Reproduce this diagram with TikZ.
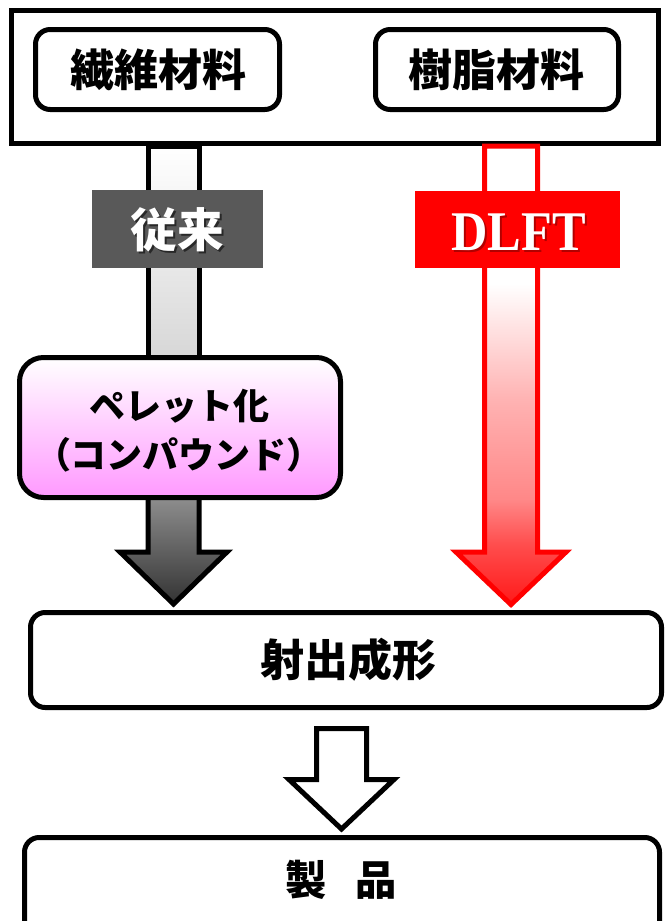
\documentclass[tikz,border=0pt]{standalone}
\usepackage{fontspec}
\newfontfamily\jp{Noto Sans CJK JP}
\newfontfamily\serifb{Liberation Serif}
\definecolor{lblgray}{HTML}{595959}
\definecolor{pelbot}{HTML}{FF99FF}
\pgfdeclareverticalshading{redarr}{100bp}{color(0bp)=(red!90); color(25bp)=(red!90); color(31.5bp)=(red!70); color(36.4bp)=(red!47); color(47.3bp)=(red!30); color(60bp)=(white); color(100bp)=(white)}
\begin{document}
\begin{tikzpicture}[x=0.75pt,y=-0.75pt,line join=miter,
  thickbox/.style={draw=black,line width=3.75pt,inner sep=0pt,outer sep=0pt},
  rbox/.style={thickbox,rounded corners=11pt},
  ttl/.style={font=\jp\bfseries\fontsize{33}{40}\selectfont},
  lbl/.style={inner sep=0pt,outer sep=0pt},
  arrowline/.style={line width=3.75pt},
]
\useasboundingbox (0,0) rectangle (665,921);
\clip (0,0) rectangle (665,921);
\fill[white] (0,0) rectangle (665,921);

% top frame with the two materials
\node[thickbox,minimum width=484.875pt,minimum height=100.125pt] (frame) at (334.75,76.75) {};
\node[rbox,minimum width=183pt,minimum height=60pt] (fiber) at (157.5,69.5) {};
\node[ttl] (fibert) at (158,70) {繊維材料};
\node[rbox,minimum width=182.25pt,minimum height=60pt] (resin) at (497,69.5) {};
\node[ttl] (resint) at (496,70) {樹脂材料};

% left path: shaft above pellet box
\draw[arrowline,draw=black,top color=white,middle color=white,bottom color=black!16] (148,146) rectangle (199,362);
% left path: arrow below pellet box
\draw[arrowline,draw=black,top color=black!42,bottom color=black!80]
  (148,490) -- (148,552) -- (120,552) -- (173.5,604) -- (227,552) -- (199,552) -- (199,490) -- cycle;
% right path: DLFT arrow
\draw[arrowline,draw=red,shading=redarr]
  (484.5,146) -- (484.5,552) -- (456,552) -- (511,604.5) -- (566,552) -- (537.5,552) -- (537.5,146) -- cycle;

% labels
\node[lbl,fill=lblgray,minimum width=128.25pt,minimum height=58.5pt] (conv) at (177.5,229) {};
\node[text=black,opacity=0.55,font=\jp\bfseries\fontsize{35}{40}\selectfont] (convs) at (179.5,232) {従来};
\node[text=white,font=\jp\bfseries\fontsize{35}{40}\selectfont] (convt) at (177.5,230) {従来};
\node[lbl,fill=red,minimum width=153.75pt,minimum height=57.75pt] (dlft) at (517.5,229.5) {};
\node[text=red!50!black,opacity=0.6,font=\serifb\bfseries\fontsize{42}{46}\selectfont] (dlfts) at (520.5,234) {\scalebox{0.9}[1]{DLFT}};
\node[text=white,font=\serifb\bfseries\fontsize{42}{46}\selectfont] (dlftt) at (518.5,232) {\scalebox{0.9}[1]{DLFT}};

% pellet box
\node[thickbox,rounded corners=18pt,top color=white,bottom color=pelbot,minimum width=240.75pt,minimum height=105pt] (pellet) at (180,427.5) {};
\node[align=center,font=\jp\bfseries\fontsize{27}{37}\selectfont] (pellett) at (179,431) {ペレット化\\（コンパウンド）};

% injection molding
\node[rbox,fill=white,minimum width=473.25pt,minimum height=71.25pt] (inject) at (346,660) {};
\node[ttl] (injectt) at (348,660) {射出成形};

% hollow arrow
\draw[arrowline,draw=black,fill=white]
  (316.5,728.5) -- (316.5,779.5) -- (289,779.5) -- (341.5,829) -- (394,779.5) -- (366.5,779.5) -- (366.5,728.5) -- cycle;

% product
\node[rbox,fill=white,minimum width=476.25pt,minimum height=91.875pt] (product) at (342,898.75) {};
\node[font=\jp\bfseries\fontsize{31}{36}\selectfont] (productt) at (341.5,880) {製\hspace{0.7em}品};
\end{tikzpicture}
\end{document}
